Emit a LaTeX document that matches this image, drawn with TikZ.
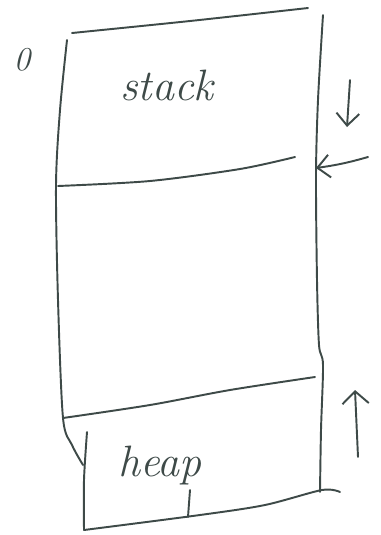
\documentclass[tikz,border=0pt]{standalone}
\usepackage{tikz}
\usetikzlibrary{arrows,arrows.meta,positioning,calc}
\definecolor{ink}{RGB}{62,74,72}

\begin{document}
\begin{tikzpicture}[x=0.02cm, y=-0.02cm, line width=1.1pt, draw=ink, line cap=round, line join=round,
        every node/.style={text=ink, font=\itshape\fontsize{25}{27}\selectfont}]
                \useasboundingbox (0,0) rectangle (380,535);

                % Outer frame
                \draw plot[smooth] coordinates {(72,33) (190,21) (308,8)};
                \draw plot[smooth] coordinates {(67,40) (60,110) (56,185) (58,300) (63,418) (72,445) (83,465)};
                \draw plot[smooth] coordinates {(323,15) (318,100) (316,175) (317,280) (319,345) (323,365) (321,430) (320,492)};
                \node (zero) at (22,60) {\fontsize{19}{21}\selectfont 0};

                % Stack region
                \draw plot[smooth] coordinates {(58,186) (150,181) (240,169) (295,157)};
                \node (stack) at (167,85) {stack};

                % Heap region
                \draw plot[smooth] coordinates {(63,418) (150,405) (230,390) (315,377)};
                \draw plot[smooth] coordinates {(87,432) (84,480) (84,530)};
                \draw plot[smooth] coordinates {(84,530) (200,515) (265,505) (322,490) (340,492)};
                \node (heap) at (160,466) {heap};
                \draw (190,490) -- (188,517);

                % Arrows showing growth
                \coordinate (stack top) at (350,80);
                \coordinate (stack tip) at (347,127);
                \coordinate (ptr tail) at (368,157);
                \coordinate (ptr tip) at (316,168);
                \coordinate (heap tail) at (358,457);
                \coordinate (heap tip) at (355,390);
                \draw[->, >={Straight Barb[length=7pt, width=13pt]}] (stack top) -- (stack tip);
                \draw[->, >={Straight Barb[length=7pt, width=13pt]}] (ptr tail) to[bend left=4] (ptr tip);
                \draw[->, >={Straight Barb[length=7pt, width=15pt]}] (heap tail) -- (heap tip);
            \end{tikzpicture}
\end{document}
